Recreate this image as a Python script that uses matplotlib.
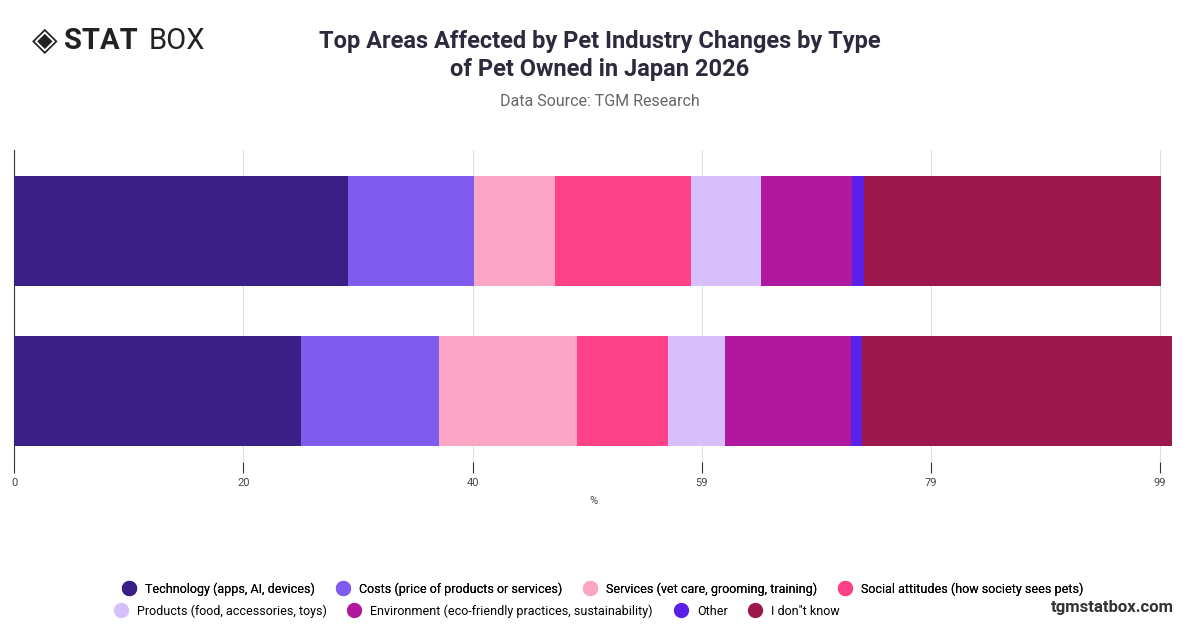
import matplotlib
matplotlib.use("Agg")
import matplotlib.pyplot as plt
from matplotlib.lines import Line2D

categories = ["Pet A", "Pet B"]
series = ["Technology (apps, AI, devices)", "Costs (price of products or services)",
          "Services (vet care, grooming, training)", "Social attitudes (how society sees pets)",
          "Products (food, accessories, toys)", "Environment (eco-friendly practices, sustainability)",
          "Other", "I don\"t know"]
values = [
    [28.8, 24.8],
    [10.9, 11.9],
    [7.0, 11.9],
    [11.8, 7.9],
    [6.0, 4.9],
    [7.9, 10.9],
    [1.0, 1.0],
    [25.7, 26.8],
]
colors = ["#3a1f86", "#7f5cee", "#fca5c5", "#ff4287", "#d6bffa", "#b0199f", "#5b20e8", "#9c174c"]
tick_pos = [0, 19.8, 39.6, 59.4, 79.2, 99]
tick_labels = ["0", "20", "40", "59", "79", "99"]

plt.rcParams['font.family'] = ['Roboto', 'DejaVu Sans']
fig = plt.figure(figsize=(12, 6.28), dpi=100)
ax = fig.add_axes([0.012, 1 - 462 / 628, 0.966, 312 / 628])
ypos = [1, 0]
left = [0, 0]
for s, v, c in zip(series, values, colors):
    ax.barh(ypos, v, left=left, color=c, height=0.69, zorder=3)
    left = [l + x for l, x in zip(left, v)]
ax.set_xlim(0, 100.2)
ax.set_ylim(-0.444, 1.506)
ax.set_yticks([])
ax.set_xticks(tick_pos)
ax.set_xticklabels(tick_labels, fontsize=8, color="#444")
ax.tick_params(axis='x', length=8, color="#333")
ax.grid(axis='x', color="#dddddd", lw=0.8, zorder=0)
for sp in ["top", "right", "bottom"]:
    ax.spines[sp].set_visible(False)
ax.spines["left"].set_color("#333")
ax.set_xlabel("%", fontsize=8, color="#444", labelpad=6)

fig.text(0.5, 0.912, "Top Areas Affected by Pet Industry Changes by Type\nof Pet Owned in Japan 2026",
         ha="center", va="center", fontsize=17, fontweight="bold", color="#2b2b3d", linespacing=1.3)
fig.text(0.5, 0.838, "Data Source: TGM Research", ha="center", va="center", fontsize=11.5, color="#666")
fig.text(0.053, 0.935, "STAT", ha="left", va="center", fontsize=21, fontweight="bold", color="#222")
fig.text(0.124, 0.935, "BOX", ha="left", va="center", fontsize=21, color="#222")
fig.text(0.037, 0.935, "◈", ha="center", va="center", fontsize=24, color="#222", family=["DejaVu Sans"])
fig.text(0.978, 0.033, "tgmstatbox.com", ha="right", va="center", fontsize=12, fontweight="bold", color="#333")

handles = [Line2D([0], [0], marker='o', ls='', markersize=10, markerfacecolor=c, markeredgecolor=c) for c in colors]
leg1 = fig.legend(handles[:4], series[:4], loc="center", bbox_to_anchor=(0.5, 0.062), ncol=4,
                  frameon=False, fontsize=9, handletextpad=0.3, columnspacing=1.2)
fig.legend(handles[4:], series[4:], loc="center", bbox_to_anchor=(0.395, 0.027), ncol=4,
           frameon=False, fontsize=9, handletextpad=0.3, columnspacing=1.2)
fig.add_artist(leg1)
fig.savefig("out.png", dpi=100, facecolor="white")
